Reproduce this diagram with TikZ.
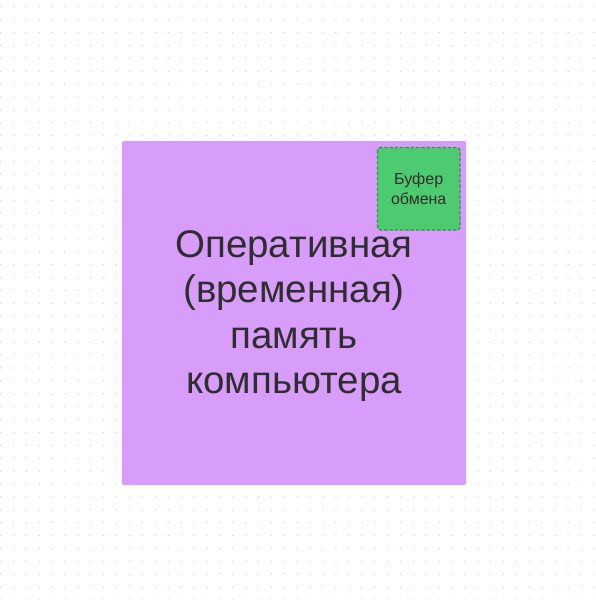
\documentclass[tikz,border=0pt]{standalone}
\usepackage{fontspec}
\setmainfont{Liberation Sans}
\definecolor{purp}{HTML}{D89CFB}
\definecolor{grn}{HTML}{4DCB71}
\definecolor{grnb}{HTML}{3D8A55}
\definecolor{txt}{HTML}{2E2E2E}
\definecolor{dotc}{HTML}{D2D2D2}
\tikzset{
  mainbox/.style={fill=purp, rounded corners=1.5pt},
  bufbox/.style={fill=grn, draw=grnb, dash pattern=on 3.3pt off 2pt, line width=1.3pt, rounded corners=3pt},
  bigtext/.style={text=txt, align=center, inner sep=0pt, font=\fontsize{38.5}{45.5}\selectfont},
  smalltext/.style={text=txt, align=center, inner sep=0pt, font=\fontsize{16}{20}\selectfont},
}
\begin{document}
\begin{tikzpicture}[x=1pt,y=-1pt]
\useasboundingbox (0,0) rectangle (595,600);
\fill[white] (0,0) rectangle (595,600);
\foreach \i in {0,...,46} {
  \foreach \j in {0,...,46} {
    \fill[dotc] ({0.5+\i*12.9},{6.7+\j*12.9}) circle (0.7);
  }
}
\path[mainbox] (122,141) rectangle (466,485);
\node[bigtext] (mem) at (294,316) {Оперативная\\(временная)\\память\\компьютера};
\draw[bufbox] (377.5,147.5) rectangle (460,230);
\node[smalltext] (buf) at (418.7,188.5) {Буфер\\обмена};
\end{tikzpicture}
\end{document}
